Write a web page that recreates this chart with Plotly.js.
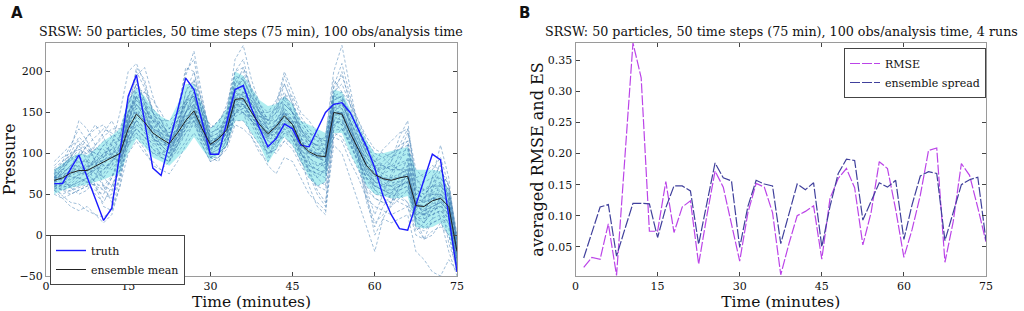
<!DOCTYPE html>
<html>
<head>
<meta charset="utf-8">
<script src="https://cdn.plot.ly/plotly-3.0.1.min.js"></script>
<style>html,body{margin:0;padding:0;background:#fff;}#chart{width:1024px;height:311px;}</style>
</head>
<body>
<div id="chart"></div>
<script>
// ---- data ----
const timeMin = [1.5,3,4.5,6,7.5,9,10.5,12,13.5,15,16.5,18,19.5,21,22.5,24,25.5,27,28.5,30,31.5,33,34.5,36,37.5,39,40.5,42,43.5,45,46.5,48,49.5,51,52.5,54,55.5,57,58.5,60,61.5,63,64.5,66,67.5,69,70.5,72,73.5,75];

const truth = [63,63,81,98,71,44,18,33,101,170, 196,140,82,73,113,153,192,178,139,99, 99,140,178,183,155,130,108,118,136,130, 110,108,128,150,160,162,150,130,108,82, 48,25,8,6,36,68,99,92,23,-45];
const ensMean = [67,70,76,79,79,84,90,95,100,130, 148,138,125,118,112,125,140,152,130,111, 118,129,166,167,150,135,124,133,146,135, 112,102,97,96,150,148,125,105,85,74, 69,67,70,72,36,35,42,45,35,-20];
const bandUpper = [80,88,95,100,98,105,115,122,130,165, 180,170,155,145,140,160,185,185,160,130, 140,155,200,195,180,165,158,160,170,160, 140,135,130,125,178,175,155,135,115,100, 100,103,105,108,80,80,80,78,55,-5];
const bandLower = [50,55,58,60,62,65,68,72,75,100, 118,108,95,90,85,95,105,120,105,92, 98,110,140,140,125,110,88,105,120,110, 90,70,60,65,125,125,100,80,60,50, 48,45,45,48,10,8,10,15,0,-35];

const p01 = [72,80,92,105,95,80,70,85,110,150, 175,160,135,120,105,120,150,175,140,105, 110,135,175,180,160,140,120,130,150,140, 120,95,85,90,160,165,135,110,80,70, 65,60,75,80,40,30,45,55,40,-25];
const p02 = [60,62,70,70,65,70,75,90,105,140, 165,150,130,125,115,130,160,170,140,110, 120,125,160,160,145,130,115,125,150,130, 105,95,100,105,145,140,120,95,70,60, 55,55,60,65,30,25,35,40,30,-30];
const p03 = [65,75,85,95,110,120,130,125,115,135, 150,135,120,110,100,110,130,150,120,100, 105,120,170,175,160,145,140,150,160,150, 130,115,110,100,140,135,110,90,70,55, 50,45,55,60,20,15,30,35,20,-35];
const p04 = [55,50,55,60,65,50,40,60,85,120, 140,125,110,100,95,115,140,160,145,125, 130,140,180,190,170,150,125,120,140,125, 100,85,80,75,135,140,120,105,95,85, 75,80,85,90,50,55,60,60,50,-10];
const p05 = [80,85,95,90,80,95,110,120,125,150, 165,155,140,135,125,135,150,160,130,95, 100,115,150,155,140,125,110,120,135,120, 95,80,70,80,155,160,140,115,95,80, 80,85,95,100,45,40,50,50,40,-15];
const p06 = [75,65,60,65,70,85,100,105,95,115, 130,120,105,95,90,110,135,145,120,105, 115,130,165,160,140,120,105,115,130,125, 115,110,105,105,170,165,145,125,105,90, 85,80,80,75,35,30,35,40,30,-25];
const p07 = [70,72,80,85,95,105,115,110,95,110, 125,115,100,95,90,105,125,140,120,100, 110,120,155,150,135,115,100,110,125,115, 90,75,60,65,125,120,100,80,55,45, 40,35,45,55,15,10,20,25,15,-40];
const p08 = [62,60,65,75,85,75,60,55,80,125, 150,140,120,105,100,130,165,185,150,115, 120,140,190,200,175,160,150,155,165,150, 125,110,105,100,160,155,130,110,85,65, 60,55,60,65,25,25,30,35,25,-30];
const p09 = [68,75,85,85,75,65,55,45,70,110, 135,125,115,115,110,130,150,160,140,120, 125,135,165,165,150,140,135,140,155,145, 125,115,110,105,150,150,125,100,75,60, 55,50,45,40,10,5,15,20,15,-35];
const p10 = [85,95,100,105,100,110,120,130,130,160, 185,165,140,125,110,115,130,145,125,105, 110,125,160,160,145,130,120,140,160,150, 130,120,115,110,160,160,140,120,100,90, 95,100,105,110,55,50,60,60,50,-5];
const p11 = [58,55,60,65,70,80,85,85,95,135, 170,150,125,110,100,115,135,150,125,100, 105,115,145,150,140,130,125,135,150,135, 100,80,75,80,145,150,130,100,75,65, 60,60,65,70,40,45,50,50,40,-20];
const p12 = [70,68,72,78,80,90,100,105,110,145, 160,145,130,125,120,140,165,170,135,105, 115,135,175,170,150,140,130,140,155,140, 110,100,95,90,155,145,120,95,60,45, 40,40,50,55,25,30,35,40,30,-45];
const p13 = [64,70,80,90,90,85,80,90,100,125, 140,130,120,120,115,125,140,150,135,115, 120,130,160,165,155,135,120,125,140,130, 110,105,100,100,150,150,130,110,90,80, 75,70,70,75,40,40,45,50,40,-20];
const p14 = [76,78,82,80,75,80,88,98,110,140, 160,150,140,130,120,130,145,155,130,110, 115,125,165,170,155,140,130,135,145,135, 115,105,100,100,155,155,130,110,90,75, 70,70,75,80,45,40,45,45,35,-15];
const p15 = [60,65,75,85,80,75,80,92,105,120, 135,128,118,112,108,120,138,148,128,112, 118,126,158,160,146,132,122,130,142,132, 112,100,95,92,142,142,120,102,82,72, 68,64,66,70,34,32,38,42,32,-25];
const p16 = [72,74,78,82,82,90,96,100,104,135, 155,142,128,120,114,128,144,156,134,114, 120,132,170,172,154,138,126,136,150,138, 114,104,98,98,152,150,128,108,88,76, 70,68,72,74,38,36,44,48,38,-18];
const p17 = [50,45,50,55,60,70,80,90,100,115, 125,110,100,100,105,120,135,140,110,90, 95,110,150,155,140,130,125,130,135,125, 100,90,85,85,135,130,110,90,70,60, 55,50,55,60,20,20,25,30,20,-40];
const p18 = [90,100,110,115,105,100,95,105,120,165, 200,180,150,135,125,140,160,170,145,120, 125,140,185,185,160,145,130,130,145,130, 110,100,95,95,165,170,150,130,110,95, 85,80,80,85,50,45,55,60,50,-10];
const p19 = [66,72,78,76,74,82,92,100,108,138, 152,142,130,122,116,128,142,154,132,112, 120,130,168,168,150,136,126,134,148,136, 114,104,98,97,150,146,124,104,84,72, 68,66,70,72,36,34,42,46,36,-22];
const p20 = [68,68,74,80,84,88,92,96,98,128, 145,136,124,116,110,122,138,150,128,110, 116,128,164,166,150,134,122,132,144,134, 110,100,96,95,148,148,126,106,86,74, 70,68,70,72,36,36,42,44,34,-20];
const p21 = [70,85,105,140,130,110,95,110,150,200, 210,185,150,130,120,150,200,215,160,110, 120,150,215,232,190,160,140,155,195,165, 130,115,110,120,200,232,180,130,100,90, 105,115,125,130,70,75,85,80,60,0];
const p22 = [55,45,35,30,35,25,15,25,60,100, 115,100,90,80,75,90,110,125,110,90, 95,105,135,130,120,105,85,75,95,90, 70,50,40,30,110,100,70,40,10,-20, 20,15,20,25,-20,-30,-45,-50,-30,-45];
const p23 = [70,80,95,110,120,130,135,120,105,140, 170,165,150,140,130,140,160,175,150,125, 130,145,185,190,170,150,140,150,170,160, 140,125,120,115,170,175,160,140,120,105, 100,95,100,105,60,55,65,70,55,-5];
const p24 = [60,55,50,55,60,55,50,70,90,115, 130,120,105,100,95,110,125,135,115,95, 100,110,140,140,125,110,100,105,115,105, 85,70,60,55,120,115,90,70,45,35, 30,25,30,35,0,-5,5,10,0,-35];
const p25 = [75,90,110,130,115,90,60,40,75,145, 205,190,150,120,105,140,195,225,170,120, 115,145,200,215,175,150,135,150,185,160, 120,90,70,60,170,200,160,120,85,60, 60,70,90,110,45,20,60,90,40,-20];
const p26 = [58,48,40,38,30,25,22,30,70,120, 140,150,145,130,115,150,205,200,150,95, 90,120,175,195,165,140,115,110,125,120, 95,60,35,25,130,150,125,95,40,10, 35,50,70,95,25,15,30,45,-10,-40];
const p27 = [68,82,100,120,110,100,85,80,95,160, 195,205,170,140,120,115,130,140,115,100, 125,150,190,180,150,125,95,120,170,170, 145,130,120,110,175,185,160,135,110,90, 80,90,120,140,60,40,70,110,70,-15];
const p28 = [62,58,62,72,90,110,125,140,120,110, 120,105,85,80,90,130,175,190,150,115, 105,120,160,150,120,100,90,115,160,150, 140,125,115,120,190,175,140,95,55,25, 50,75,100,125,70,55,50,20,-20,-50];
const p29 = [80,70,58,50,55,70,95,115,120,150, 170,175,165,150,130,140,165,170,140,120, 135,160,200,205,180,160,140,160,200,175, 150,140,125,100,150,160,150,130,105,85, 70,60,50,40,20,25,55,80,60,-10];
const p30 = [65,78,95,110,90,60,35,30,60,130, 190,165,120,95,90,115,150,175,160,130, 140,155,195,190,165,150,130,125,130,120, 100,85,80,90,165,170,135,100,50,0, 20,40,60,85,10,-5,20,50,20,-30];
const p31 = [72,66,60,68,80,95,110,100,90,120, 150,140,125,125,130,150,160,155,125,95, 95,110,150,160,150,145,145,155,175,150, 110,80,55,40,120,130,115,95,75,65, 75,90,110,130,80,70,80,95,60,0];
const p32 = [56,62,75,95,110,90,70,60,80,110, 145,160,150,135,120,130,150,165,150,135, 130,135,160,175,170,155,130,115,120,110, 90,80,75,70,145,155,140,120,100,80, 60,45,40,35,5,15,40,65,30,-25];
const p33 = [78,85,92,98,100,105,105,95,90,140, 180,175,155,140,120,100,115,140,125,105, 120,145,180,175,155,130,105,100,115,115, 120,125,120,115,180,195,165,140,115,100, 95,85,80,80,40,25,25,30,15,-35];
const p34 = [64,60,58,62,70,60,45,50,95,150, 170,150,120,105,95,110,140,160,130,100, 100,110,150,165,160,150,150,165,185,160, 130,110,95,90,140,135,115,85,45,15, 25,35,55,70,30,45,70,85,45,-15];
const p35 = [70,75,85,100,120,135,120,95,90,130, 160,145,130,140,140,150,165,180,155,130, 140,150,175,165,140,120,100,105,135,140, 135,120,100,80,140,150,125,105,90,75, 90,100,110,115,65,65,70,70,55,-5];
const p36 = [66,70,72,70,65,60,55,70,100,135, 155,155,140,120,100,120,160,190,165,120, 110,125,165,175,165,150,140,140,150,135, 105,75,50,35,155,165,135,110,80,55, 45,40,60,75,20,-5,0,15,0,-45];
const p37 = [74,84,96,112,104,92,86,98,120,160, 185,160,130,110,100,125,175,200,160,110, 108,128,182,205,178,155,135,145,170,150, 128,118,108,100,182,210,170,130,100,85, 85,95,105,115,55,50,60,65,45,-10];
const p38 = [60,56,54,58,62,62,60,72,92,118, 130,120,112,110,112,128,150,165,140,112, 110,120,150,150,140,130,118,118,128,120, 100,88,80,76,128,130,112,92,68,50, 48,52,60,66,18,8,15,20,8,-30];
const p39 = [82,90,98,96,88,90,100,112,116,148, 168,158,142,132,118,128,150,168,142,112, 118,136,178,182,160,140,122,132,152,140, 118,112,110,110,170,168,140,115,95,82, 82,84,88,92,50,46,52,56,44,-12];
const p40 = [66,64,68,74,78,86,92,96,100,126, 140,132,122,116,110,120,134,146,128,110, 114,124,156,158,144,130,118,126,138,128, 104,94,88,86,140,138,118,98,78,66, 62,60,62,64,28,26,32,36,26,-28];

const rmse = [0.017,0.033,0.030,0.087,0.004,0.190,0.378,0.322,0.075,0.075, 0.155,0.073,0.114,0.124,0.022,0.100,0.172,0.146,0.087,0.027, 0.105,0.152,0.146,0.105,0.005,0.055,0.100,0.107,0.116,0.030, 0.128,0.160,0.176,0.145,0.053,0.105,0.187,0.176,0.110,0.033, 0.078,0.133,0.205,0.209,0.025,0.090,0.184,0.165,0.113,0.058];
const spread = [0.032,0.073,0.114,0.118,0.035,0.078,0.120,0.120,0.119,0.065, 0.113,0.148,0.148,0.140,0.054,0.120,0.185,0.161,0.156,0.049, 0.115,0.157,0.151,0.148,0.055,0.103,0.151,0.142,0.153,0.050, 0.115,0.168,0.191,0.189,0.093,0.123,0.153,0.146,0.157,0.062, 0.118,0.164,0.171,0.168,0.060,0.105,0.150,0.158,0.162,0.060];

const timeTicks = [0,15,30,45,60,75];
const pressureTicks = [-50,0,50,100,150,200];
const errTicks = [0.05,0.10,0.15,0.20,0.25,0.30,0.35];

const titleA = 'SRSW: 50 particles, 50 time steps (75 min), 100 obs/analysis time';
const titleB = 'SRSW: 50 particles, 50 time steps (75 min), 100 obs/analysis time, 4 runs';

// ---- build ----
const particles = [p01,p02,p03,p04,p05,p06,p07,p08,p09,p10,p11,p12,p13,p14,p15,p16,p17,p18,p19,p20,
  p21,p22,p23,p24,p25,p26,p27,p28,p29,p30,p31,p32,p33,p34,p35,p36,p37,p38,p39,p40];
const SERIF = 'DejaVu Serif, serif';
const traces = [];
traces.push({x: timeMin, y: bandLower, type: 'scatter', mode: 'lines', line: {width: 0, color: 'rgba(0,0,0,0)'}, showlegend: false, hoverinfo: 'skip', xaxis: 'x', yaxis: 'y'});
traces.push({x: timeMin, y: bandUpper, type: 'scatter', mode: 'lines', fill: 'tonexty', fillcolor: 'rgba(70,215,222,0.42)', line: {width: 0, color: 'rgba(0,0,0,0)'}, showlegend: false, hoverinfo: 'skip', xaxis: 'x', yaxis: 'y'});
particles.forEach(function (p) {
  traces.push({x: timeMin, y: p, type: 'scatter', mode: 'lines', line: {color: 'rgba(65,125,180,0.5)', width: 1, dash: '3px,2px'}, showlegend: false, xaxis: 'x', yaxis: 'y'});
});
traces.push({x: timeMin, y: truth, type: 'scatter', mode: 'lines', name: 'truth', line: {color: '#1a1aff', width: 1.4}, legend: 'legend', xaxis: 'x', yaxis: 'y'});
traces.push({x: timeMin, y: ensMean, type: 'scatter', mode: 'lines', name: 'ensemble mean', line: {color: '#222222', width: 1}, legend: 'legend', xaxis: 'x', yaxis: 'y'});
traces.push({x: timeMin, y: rmse, type: 'scatter', mode: 'lines', name: 'RMSE', line: {color: '#bb44e8', width: 1.2, dash: '10px,2px'}, legend: 'legend2', xaxis: 'x2', yaxis: 'y2'});
traces.push({x: timeMin, y: spread, type: 'scatter', mode: 'lines', name: 'ensemble spread', line: {color: '#40409c', width: 1.2, dash: '10px,2px'}, legend: 'legend2', xaxis: 'x2', yaxis: 'y2'});

function axisBase() {
  return {showline: true, linecolor: '#9a9a9a', linewidth: 1, mirror: 'ticks', ticks: 'inside', ticklen: 4, tickcolor: '#444',
    showgrid: false, zeroline: false, automargin: false, tickfont: {family: SERIF, size: 11, color: '#111'}};
}
const H = 311, W = 1024;
const xa = Object.assign(axisBase(), {domain: [46/W, 457/W], range: [0, 75], tickvals: timeTicks, anchor: 'y',
  title: {text: 'Time (minutes)', font: {family: SERIF, size: 15.5, color: '#111'}, standoff: 5}});
const ya = Object.assign(axisBase(), {domain: [1-276/H, 1-43/H], range: [-50, 235], tickvals: pressureTicks, anchor: 'x',
  title: {text: 'Pressure', font: {family: SERIF, size: 16, color: '#111'}, standoff: 4}});
const xa2 = Object.assign(axisBase(), {domain: [575.5/W, 986/W], range: [0, 75], tickvals: timeTicks, anchor: 'y2',
  title: {text: 'Time (minutes)', font: {family: SERIF, size: 15.5, color: '#111'}, standoff: 5}});
const ya2 = Object.assign(axisBase(), {domain: [1-276/H, 1-43/H], range: [0.003, 0.378], tickvals: errTicks, tickformat: '.2f', anchor: 'x2',
  title: {text: 'averaged RMSE and ES', font: {family: SERIF, size: 16, color: '#111'}, standoff: 0}});

const layout = {
  width: W, height: H, margin: {l: 0, r: 0, t: 0, b: 0}, paper_bgcolor: '#fff', plot_bgcolor: '#fff',
  font: {family: SERIF, size: 11, color: '#111'},
  xaxis: xa, yaxis: ya, xaxis2: xa2, yaxis2: ya2,
  legend: {x: 50/W, y: 1-235/H, xanchor: 'left', yanchor: 'top', bgcolor: '#fff', bordercolor: '#444', borderwidth: 1,
    font: {family: SERIF, size: 11, color: '#111'}, tracegroupgap: 0, traceorder: 'normal'},
  legend2: {x: 844/W, y: 1-48/H, xanchor: 'left', yanchor: 'top', bgcolor: '#fff', bordercolor: '#444', borderwidth: 1,
    font: {family: SERIF, size: 11, color: '#111'}, tracegroupgap: 0, traceorder: 'normal'},
  showlegend: true,
  annotations: [
    {text: titleA, xref: 'paper', yref: 'paper', x: 251/W, y: 1-32/H, xanchor: 'center', yanchor: 'middle', showarrow: false, font: {family: SERIF, size: 12.7, color: '#111'}},
    {text: titleB, xref: 'paper', yref: 'paper', x: 781/W, y: 1-32/H, xanchor: 'center', yanchor: 'middle', showarrow: false, font: {family: SERIF, size: 12.7, color: '#111'}},
    {text: '<b>A</b>', xref: 'paper', yref: 'paper', x: 17/W, y: 1-13/H, xanchor: 'center', yanchor: 'middle', showarrow: false, font: {family: 'DejaVu Sans, sans-serif', size: 15, color: '#111'}},
    {text: '<b>B</b>', xref: 'paper', yref: 'paper', x: 524/W, y: 1-13/H, xanchor: 'center', yanchor: 'middle', showarrow: false, font: {family: 'DejaVu Sans, sans-serif', size: 15, color: '#111'}}
  ]
};
Plotly.newPlot('chart', traces, layout, {displayModeBar: false, staticPlot: true});
</script>
</body>
</html>
